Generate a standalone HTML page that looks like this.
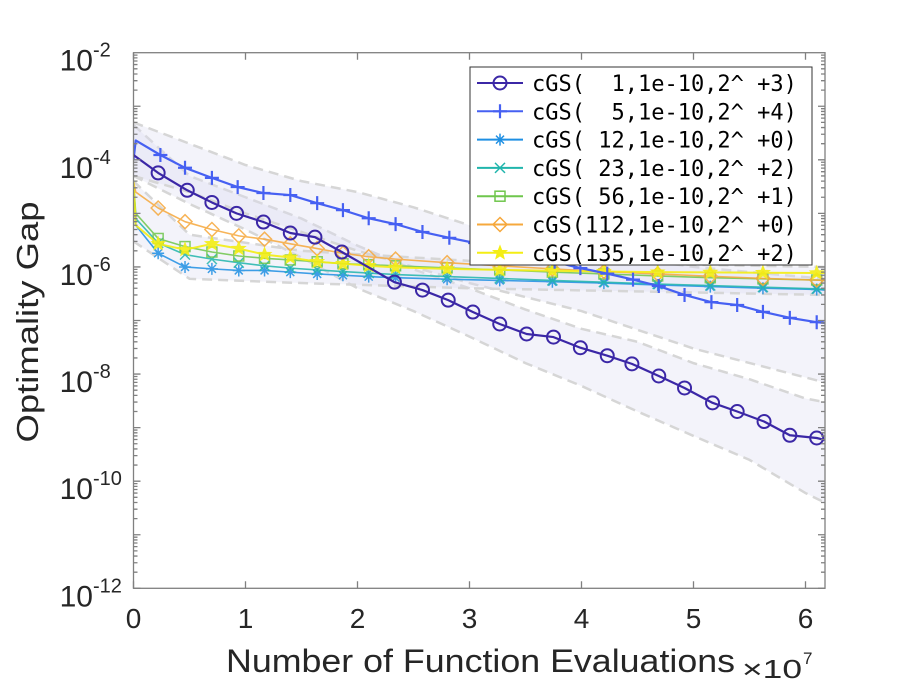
<!DOCTYPE html>
<html><head><meta charset="utf-8"><style>
html,body{margin:0;padding:0;background:#fff;}
svg{display:block;font-family:"Liberation Sans",sans-serif;}
</style></head><body>
<svg id="chart" width="913" height="686" viewBox="0 0 913 686" xmlns="http://www.w3.org/2000/svg"></svg>
<script>
// ---- data (x in units of 1e7 function evaluations) ----
var xsPurple = [0,0.22,0.48,0.70,0.92,1.16,1.40,1.62,1.86,2.33,2.58,2.81,3.03,3.27,3.51,3.75,3.99,4.23,4.45,4.69,4.92,5.17,5.39,5.63,5.86,6.10,6.17];
var ysPurple = [1.23e-4,5.7e-5,2.7e-5,1.6e-5,1.0e-5,6.9e-6,4.3e-6,3.6e-6,1.9e-6,5.2e-7,3.7e-7,2.4e-7,1.44e-7,8.6e-8,5.6e-8,4.9e-8,3.1e-8,2.2e-8,1.55e-8,9.2e-9,5.5e-9,2.9e-9,2.0e-9,1.3e-9,7.2e-10,6.4e-10,5.9e-10];
var xsBlue = [0,0.02,0.24,0.46,0.70,0.93,1.16,1.40,1.64,1.87,2.10,2.34,2.58,2.82,3.05,3.29,3.52,3.76,3.99,4.23,4.46,4.69,4.92,5.16,5.39,5.62,5.86,6.10,6.17];
var ysBlue = [1.0e-4,2.3e-4,1.23e-4,7.1e-5,4.6e-5,3.1e-5,2.4e-5,2.2e-5,1.55e-5,1.15e-5,8.1e-6,6.3e-6,4.5e-6,3.5e-6,2.8e-6,2.2e-6,1.7e-6,1.25e-6,9.5e-7,7.5e-7,5.8e-7,4.4e-7,3.0e-7,2.2e-7,1.95e-7,1.45e-7,1.12e-7,9.3e-8,9.0e-8];
var xsCluster = [0,0.02,0.22,0.46,0.70,0.94,1.17,1.40,1.64,1.87,2.10,2.34,2.80,3.27,3.74,4.20,4.68,5.15,5.62,6.10,6.17];
var ysS12  = [4e-5,6e-6,1.8e-6,1.0e-6,9.2e-7,8.6e-7,8.6e-7,8.0e-7,7.4e-7,7.0e-7,6.6e-7,6.3e-7,5.9e-7,5.6e-7,5.3e-7,5.0e-7,4.6e-7,4.3e-7,4.0e-7,3.8e-7,3.7e-7];
var ysS23  = [4e-5,8e-6,2.8e-6,1.7e-6,1.4e-6,1.2e-6,1.05e-6,9.5e-7,8.8e-7,8.2e-7,7.7e-7,7.2e-7,6.6e-7,6.1e-7,5.6e-7,5.2e-7,4.8e-7,4.5e-7,4.2e-7,3.9e-7,3.8e-7];
var ysS56  = [4e-5,1e-5,3.4e-6,2.4e-6,1.9e-6,1.6e-6,1.45e-6,1.35e-6,1.25e-6,1.15e-6,1.1e-6,1.05e-6,9.6e-7,8.8e-7,8.0e-7,7.4e-7,6.8e-7,6.3e-7,6.0e-7,5.7e-7,5.6e-7];
var ysS112 = [4e-5,2.5e-5,1.26e-5,7e-6,5e-6,3.8e-6,3.3e-6,2.7e-6,2.2e-6,1.8e-6,1.55e-6,1.4e-6,1.2e-6,1.05e-6,9.2e-7,8.2e-7,7.4e-7,6.7e-7,6.1e-7,5.7e-7,5.6e-7];
var ysS135 = [4e-5,6e-6,2.7e-6,2.1e-6,2.7e-6,2.2e-6,1.7e-6,1.5e-6,1.25e-6,1.15e-6,1.05e-6,9.8e-7,9.2e-7,8.8e-7,8.5e-7,8.2e-7,8.0e-7,7.9e-7,7.8e-7,7.7e-7,7.7e-7];
var bandXsPurple = [0,0.5,1,1.5,2,2.5,3,3.5,4,4.5,5,5.5,6,6.17];
var bandHiPurple = [4.5e-4,5e-5,2e-5,8e-6,2.5e-6,9e-7,4e-7,1.6e-7,7e-8,4e-8,1.6e-8,8e-9,3.5e-9,3e-9];
var bandLoPurple = [5e-5,1.5e-5,5e-6,1.5e-6,4e-7,1.5e-7,5e-8,1.6e-8,6e-9,2e-9,7e-10,2.5e-10,6e-11,4e-11];
var bandXsBlue = [0,0.5,1,1.5,2,2.5,3,4,5,6.17];
var bandHiBlue = [5e-4,2e-4,8e-5,4e-5,2.5e-5,1.3e-5,6e-6,2e-6,1e-6,6e-7];
var bandLoBlue = [5e-5,2.5e-5,1e-5,4.5e-6,2e-6,1e-6,5e-7,1.5e-7,3e-8,7e-9];
var bandXsCluster = [0,0.5,1.5,3,6.17];
var bandHiCluster = [4e-5,4e-6,2e-6,1.3e-6,1e-6];
var bandLoCluster = [3e-6,6e-7,5e-7,4e-7,3e-7];
var xTickLabels = ["0","1","2","3","4","5","6"];
var yTickExps = [-2,-4,-6,-8,-10,-12];
var legendLabels = ["cGS(  1,1e-10,2^ +3)","cGS(  5,1e-10,2^ +4)","cGS( 12,1e-10,2^ +0)","cGS( 23,1e-10,2^ +2)","cGS( 56,1e-10,2^ +1)","cGS(112,1e-10,2^ +0)","cGS(135,1e-10,2^ +2)"];

var L=133.5, R=825, T=52.7, B=588.3;
function sx(v){ return L + v*112; }
function sy(v){ return B - (Math.log(v)/Math.LN10+12)*(B-T)/10; }
var NS="http://www.w3.org/2000/svg";
var svg=document.getElementById('chart');
function mk(tag, attrs, parent){
  var e=document.createElementNS(NS,tag);
  for(var k in attrs){ e.setAttribute(k,String(attrs[k])); }
  (parent||svg).appendChild(e);
  return e;
}
function pathFrom(xs,ys){
  var s='';
  for(var i=0;i<xs.length;i++){ s+=(i?'L':'M')+sx(xs[i]).toFixed(2)+','+sy(ys[i]).toFixed(2); }
  return s;
}

var clip=mk('clipPath',{id:'pc'});
mk('rect',{x:L,y:T,width:R-L,height:B-T},clip);
var plot=mk('g',{'clip-path':'url(#pc)'});



function band(xs,hi,lo,name){
  var d=pathFrom(xs,hi);
  for(var j=xs.length-1;j>=0;j--){ d+='L'+sx(xs[j]).toFixed(2)+','+sy(lo[j]).toFixed(2); }
  d+='Z';
  var p=mk('path',{d:d,fill:'#dcdcf2','fill-opacity':'0.35',stroke:'none'},plot);
  
  
  var up=mk('path',{d:pathFrom(xs,hi),fill:'none',stroke:'#d6d6d6','stroke-width':2.5,'stroke-dasharray':'10 6'},plot);
  
  
  var dn=mk('path',{d:pathFrom(xs,lo),fill:'none',stroke:'#d6d6d6','stroke-width':2.5,'stroke-dasharray':'10 6'},plot);
  
  
}
band(bandXsPurple,bandHiPurple,bandLoPurple,'band-cgs-1');
band(bandXsBlue,bandHiBlue,bandLoBlue,'band-cgs-5');
band(bandXsCluster,bandHiCluster,bandLoCluster,'band-cgs-cluster');

function drawMarker(g,type,x,y,c){
  var e;
  if(type==='o'){ e=mk('circle',{cx:x,cy:y,r:6.5,fill:'none',stroke:c,'stroke-width':2},g); }
  else if(type==='+'){ e=mk('path',{d:'M'+(x-7)+','+y+'H'+(x+7)+'M'+x+','+(y-7)+'V'+(y+7),stroke:c,'stroke-width':2.2,fill:'none'},g); }
  else if(type==='*'){ e=mk('path',{d:'M'+(x-6)+','+y+'H'+(x+6)+'M'+x+','+(y-6)+'V'+(y+6)+'M'+(x-4)+','+(y-4)+'L'+(x+4)+','+(y+4)+'M'+(x-4)+','+(y+4)+'L'+(x+4)+','+(y-4),stroke:c,'stroke-width':1.5,fill:'none'},g); }
  else if(type==='x'){ e=mk('path',{d:'M'+(x-5)+','+(y-5)+'L'+(x+5)+','+(y+5)+'M'+(x-5)+','+(y+5)+'L'+(x+5)+','+(y-5),stroke:c,'stroke-width':1.5,fill:'none'},g); }
  else if(type==='s'){ e=mk('rect',{x:x-5,y:y-5,width:10,height:10,fill:'none',stroke:c,'stroke-width':1.5},g); }
  else if(type==='d'){ e=mk('path',{d:'M'+x+','+(y-7)+'L'+(x+7)+','+y+'L'+x+','+(y+7)+'L'+(x-7)+','+y+'Z',fill:'none',stroke:c,'stroke-width':1.5},g); }
  else {
    var pts=[];
    for(var k=0;k<10;k++){ var r=(k%2)?3:7; var a=-Math.PI/2+k*Math.PI/5; pts.push((x+r*Math.cos(a)).toFixed(1)+','+(y+r*Math.sin(a)).toFixed(1)); }
    e=mk('polygon',{points:pts.join(' '),fill:c,stroke:c,'stroke-width':1},g);
  }
  
  
}
function drawSeries(xs,ys,c,type,name,skipStart,w,op){
  var g=mk('g',{opacity:op},plot);
  
  
  var ln=mk('path',{d:pathFrom(xs,ys),fill:'none',stroke:c,'stroke-width':w,'stroke-linejoin':'round'},g);
  
  
  for(var i=skipStart;i<xs.length-1;i++){ drawMarker(g,type,sx(xs[i]),sy(ys[i]),c); }
}
var palette=['#3b27a6','#4660f2','#1e8fe3','#20b5ac','#6fc64c','#f6a83c','#f4ee14'];
var mtypes=['o','+','*','x','s','d','p'];
drawSeries(xsCluster,ysS12,palette[2],'*','series-cgs-12',2,1.6,0.85);
drawSeries(xsCluster,ysS23,palette[3],'x','series-cgs-23',2,1.6,0.85);
drawSeries(xsCluster,ysS56,palette[4],'s','series-cgs-56',2,1.6,0.85);
drawSeries(xsCluster,ysS112,palette[5],'d','series-cgs-112',2,1.6,0.85);
drawSeries(xsCluster,ysS135,palette[6],'p','series-cgs-135',2,2,0.9);
drawSeries(xsBlue,ysBlue,palette[1],'+','series-cgs-5',2,2.2,1);
drawSeries(xsPurple,ysPurple,palette[0],'o','series-cgs-1',1,2.2,1);

// ---- axes ----
var ax=mk('g',{stroke:'#808080','stroke-width':1.3,fill:'none'});


mk('rect',{x:L,y:T,width:R-L,height:B-T},ax);
var td='';
for(var i=0;i<xTickLabels.length;i++){ var tx=sx(i); td+='M'+tx+','+B+'V'+(B-7)+'M'+tx+','+T+'V'+(T+7); }
for(var ex=-12;ex<-2;ex++){
  for(var m=1;m<10;m++){ var ty=sy(m*Math.pow(10,ex)); var len=(m===1)?7:4; td+='M'+L+','+ty+'H'+(L+len)+'M'+R+','+ty+'H'+(R-len); }
}
mk('path',{d:td},ax);

for(var i2=0;i2<xTickLabels.length;i2++){
  var e1=mk('text',{x:sx(i2),y:628,'text-anchor':'middle','font-size':28,fill:'#262626'});
  e1.textContent=xTickLabels[i2];
  
  
}
for(var j2=0;j2<yTickExps.length;j2++){
  var yy=sy(Math.pow(10,yTickExps[j2]));
  var e2=mk('text',{x:93,y:yy+18,'text-anchor':'end','font-size':30,fill:'#262626'});
  e2.textContent='10';
  
  
  var e3=mk('text',{x:93,y:yy+4,'font-size':20,fill:'#262626'});
  e3.textContent=String(yTickExps[j2]);
  
  
}
var xt=mk('text',{x:226,y:672,'font-size':32,fill:'#262626',textLength:509,lengthAdjust:'spacingAndGlyphs'});
xt.textContent='Number of Function Evaluations';


var xm=mk('text',{x:742,y:678,'font-size':26,fill:'#262626',textLength:60,lengthAdjust:'spacingAndGlyphs'});
xm.textContent='×10';


var xm2=mk('text',{x:803,y:664,'font-size':17,fill:'#262626'});
xm2.textContent='7';


var yt=mk('text',{x:0,y:0,'text-anchor':'middle','font-size':31,fill:'#262626',transform:'translate(38,322) rotate(-90)',textLength:241,lengthAdjust:'spacingAndGlyphs'});
yt.textContent='Optimality Gap';



// ---- legend ----
var lg=mk('g',{});


mk('rect',{x:470,y:67,width:342,height:198,fill:'#fff',stroke:'#333','stroke-width':1},lg);
for(var li=0;li<legendLabels.length;li++){
  var ly=83+li*28.3;
  var it=mk('g',{},lg);
  
  
  mk('line',{x1:477,x2:523,y1:ly,y2:ly,stroke:palette[li],'stroke-width':2},it);
  drawMarker(it,mtypes[li],500,ly,palette[li]);
  var lt=mk('text',{x:532,y:ly+8,'font-size':22,'font-family':'"DejaVu Sans Mono","Liberation Mono",monospace',fill:'#000'},it);
  lt.style.whiteSpace='pre';
  lt.textContent=legendLabels[li];
  
  
}
</script>
</body></html>
